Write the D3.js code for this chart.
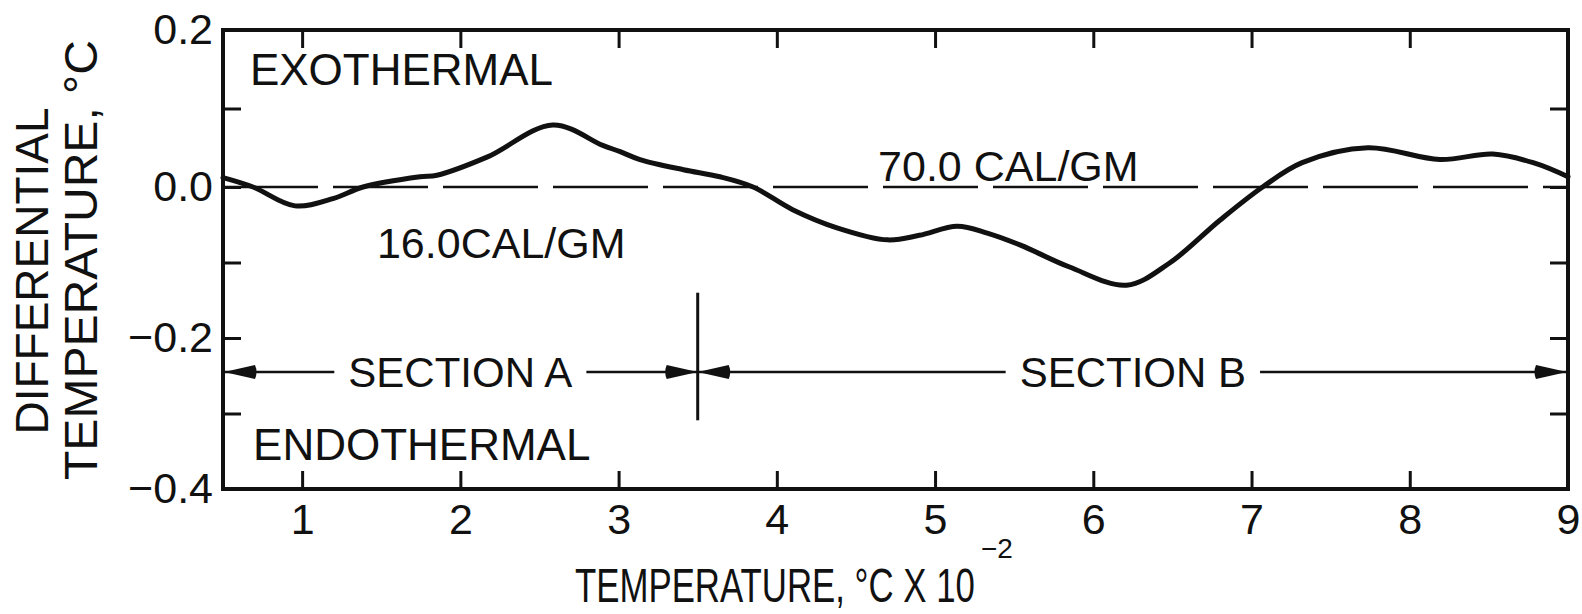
<!DOCTYPE html>
<html>
<head>
<meta charset="utf-8">
<script src="https://cdn.jsdelivr.net/npm/d3@7"></script>
<style>
  html, body { margin: 0; padding: 0; background: #fff; }
  svg { display: block; }
  text { font-family: "Liberation Sans", Arial, sans-serif; fill: #111; }
</style>
</head>
<body>
<svg id="chart" width="1582" height="614"></svg>
<script>
// ---- data ----
const tempX = [0.5, 0.69, 0.955, 1.2, 1.385, 1.745, 1.852, 2.168, 2.585, 2.9, 3.01, 3.135, 3.41, 3.64, 3.85,
               4.1, 4.38, 4.7, 4.9, 5.14, 5.33, 5.54, 5.85, 6.21, 6.48, 6.8, 7.07, 7.32, 7.735, 8.19, 8.525, 8.78, 9.0];
const diffT = [0.012, 0.0, -0.025, -0.015, 0.0, 0.013, 0.015, 0.038, 0.079, 0.053, 0.045, 0.035, 0.022, 0.013, 0.0,
               -0.030, -0.054, -0.070, -0.064, -0.052, -0.061, -0.077, -0.106, -0.130, -0.101, -0.044, 0.0, 0.031, 0.050, 0.035, 0.042, 0.031, 0.013];
const xTickValues = [1, 2, 3, 4, 5, 6, 7, 8, 9];
const yTickValues = [0.2, 0.1, 0, -0.1, -0.2, -0.3, -0.4];
const yLabelValues = [0.2, 0, -0.2, -0.4];
const xDomain = [0.5, 9];
const yDomain = [-0.4, 0, 0.2];
const baselineValue = 0;
const sectionNames = ["SECTION A", "SECTION B"];
const sectionStarts = [0.5, 3.5];
const sectionEnds = [3.5, 9];
const sectionLevel = -0.245;
const dividerX = 3.5;
const dividerRange = [-0.14, -0.309];
const noteTexts = ["EXOTHERMAL", "ENDOTHERMAL", "16.0CAL/GM", "70.0 CAL/GM"];
const noteX = [0.67, 0.69, 1.473, 4.64];
const noteY = [0.13, -0.362, -0.094, 0.0076];
const xTitle = "TEMPERATURE, \u00B0C X 10";
const xTitleExp = "\u22122";
const yTitleLines = ["DIFFERENTIAL", "TEMPERATURE, \u00B0C"];

// ---- layout ----
const svg = d3.select("#chart");
const x = d3.scaleLinear().domain(xDomain).range([223, 1568]);
const y = d3.scaleLinear().domain(yDomain).range([489, 187, 30]);
const tickLen = 18;

// frame
svg.append("rect")
  .attr("x", x(xDomain[0])).attr("y", y(0.2))
  .attr("width", x(xDomain[1]) - x(xDomain[0]))
  .attr("height", y(-0.4) - y(0.2))
  .attr("fill", "none").attr("stroke", "#111").attr("stroke-width", 4);

const fmt = d3.format(".1f");

function styleAxis(g, withText) {
  g.select(".domain").remove();
  g.selectAll(".tick line").attr("stroke", "#111").attr("stroke-width", 3);
  g.selectAll(".tick text").style("font-size", "43px").attr("fill", "#111");
  if (!withText) g.selectAll(".tick text").remove();
}

svg.append("g").attr("transform", `translate(0,${y(-0.4)})`)
  .call(d3.axisBottom(x).tickValues(xTickValues).tickSize(-tickLen).tickSizeOuter(0).tickPadding(14).tickFormat(d3.format("d")))
  .call(g => styleAxis(g, true));
svg.append("g").attr("transform", `translate(0,${y(0.2)})`)
  .call(d3.axisTop(x).tickValues(xTickValues).tickSize(-tickLen).tickSizeOuter(0))
  .call(g => styleAxis(g, false));
svg.append("g").attr("transform", `translate(${x(xDomain[0])},0)`)
  .call(d3.axisLeft(y).tickValues(yTickValues).tickSize(-tickLen).tickSizeOuter(0).tickPadding(10)
    .tickFormat(d => yLabelValues.some(v => Math.abs(v - d) < 1e-9) ? fmt(d) : ""))
  .call(g => styleAxis(g, true));
svg.append("g").attr("transform", `translate(${x(xDomain[1])},0)`)
  .call(d3.axisRight(y).tickValues(yTickValues).tickSize(-tickLen).tickSizeOuter(0))
  .call(g => styleAxis(g, false));

// dashed baseline
svg.append("line")
  .attr("x1", x(xDomain[0])).attr("x2", x(xDomain[1]))
  .attr("y1", y(baselineValue)).attr("y2", y(baselineValue))
  .attr("stroke", "#111").attr("stroke-width", 2.5)
  .attr("stroke-dasharray", "95,15");

// curve
const pts = tempX.map((t, i) => [t, diffT[i]]);
svg.append("path")
  .datum(pts)
  .attr("d", d3.line().x(d => x(d[0])).y(d => y(d[1])).curve(d3.curveCatmullRom.alpha(0.5)))
  .attr("fill", "none").attr("stroke", "#111").attr("stroke-width", 5)
  .attr("stroke-linecap", "round").attr("stroke-linejoin", "round");

// annotations
const noteSize = [44, 44, 43, 43];
noteTexts.forEach((t, i) => {
  svg.append("text").attr("x", x(noteX[i])).attr("y", y(noteY[i]))
    .style("font-size", noteSize[i] + "px").text(t);
});

// sections
const yS = y(sectionLevel);
svg.append("line")
  .attr("x1", x(dividerX)).attr("x2", x(dividerX))
  .attr("y1", y(dividerRange[0])).attr("y2", y(dividerRange[1]))
  .attr("stroke", "#111").attr("stroke-width", 3);

function arrowHead(tipX, dir) {
  const len = 31, half = 7;
  const bx = tipX - dir * len;
  return `M${tipX},${yS} L${bx},${yS - half} Q${bx - dir * 3},${yS} ${bx},${yS + half} Z`;
}

sectionNames.forEach((name, i) => {
  const x0 = x(sectionStarts[i]), x1 = x(sectionEnds[i]);
  const mid = (x0 + x1) / 2;
  const t = svg.append("text").attr("x", mid).attr("y", yS + 15)
    .attr("text-anchor", "middle").style("font-size", "42px").text(name);
  const w = t.node().getComputedTextLength();
  const gap = 14;
  svg.append("line").attr("x1", x0).attr("x2", mid - w / 2 - gap)
    .attr("y1", yS).attr("y2", yS).attr("stroke", "#111").attr("stroke-width", 2.5);
  svg.append("line").attr("x1", mid + w / 2 + gap).attr("x2", x1)
    .attr("y1", yS).attr("y2", yS).attr("stroke", "#111").attr("stroke-width", 2.5);
  svg.append("path").attr("d", arrowHead(x0 + (i === 0 ? 1 : 0), -1)).attr("fill", "#111");
  svg.append("path").attr("d", arrowHead(x1 - (i === sectionNames.length - 1 ? 1 : 0), 1)).attr("fill", "#111");
});

// axis titles (x title is condensed lettering: scale horizontally to fit)
const xt = svg.append("text").attr("x", 0).attr("y", 0)
  .style("font-size", "48px").text(xTitle);
const natW = xt.node().getComputedTextLength();
const sx = 400 / natW;
xt.attr("transform", `translate(575,602) scale(${sx},1)`);
svg.append("text").attr("x", 981).attr("y", 558)
  .style("font-size", "28px").text(xTitleExp);

const yTitlePos = [[48, 271, 327], [97, 260, 440]];
yTitleLines.forEach((line, i) => {
  svg.append("text")
    .attr("transform", `translate(${yTitlePos[i][0]},${yTitlePos[i][1]}) rotate(-90)`)
    .attr("text-anchor", "middle")
    .attr("textLength", yTitlePos[i][2]).attr("lengthAdjust", "spacingAndGlyphs")
    .style("font-size", "47px").text(line);
});
</script>
</body>
</html>
